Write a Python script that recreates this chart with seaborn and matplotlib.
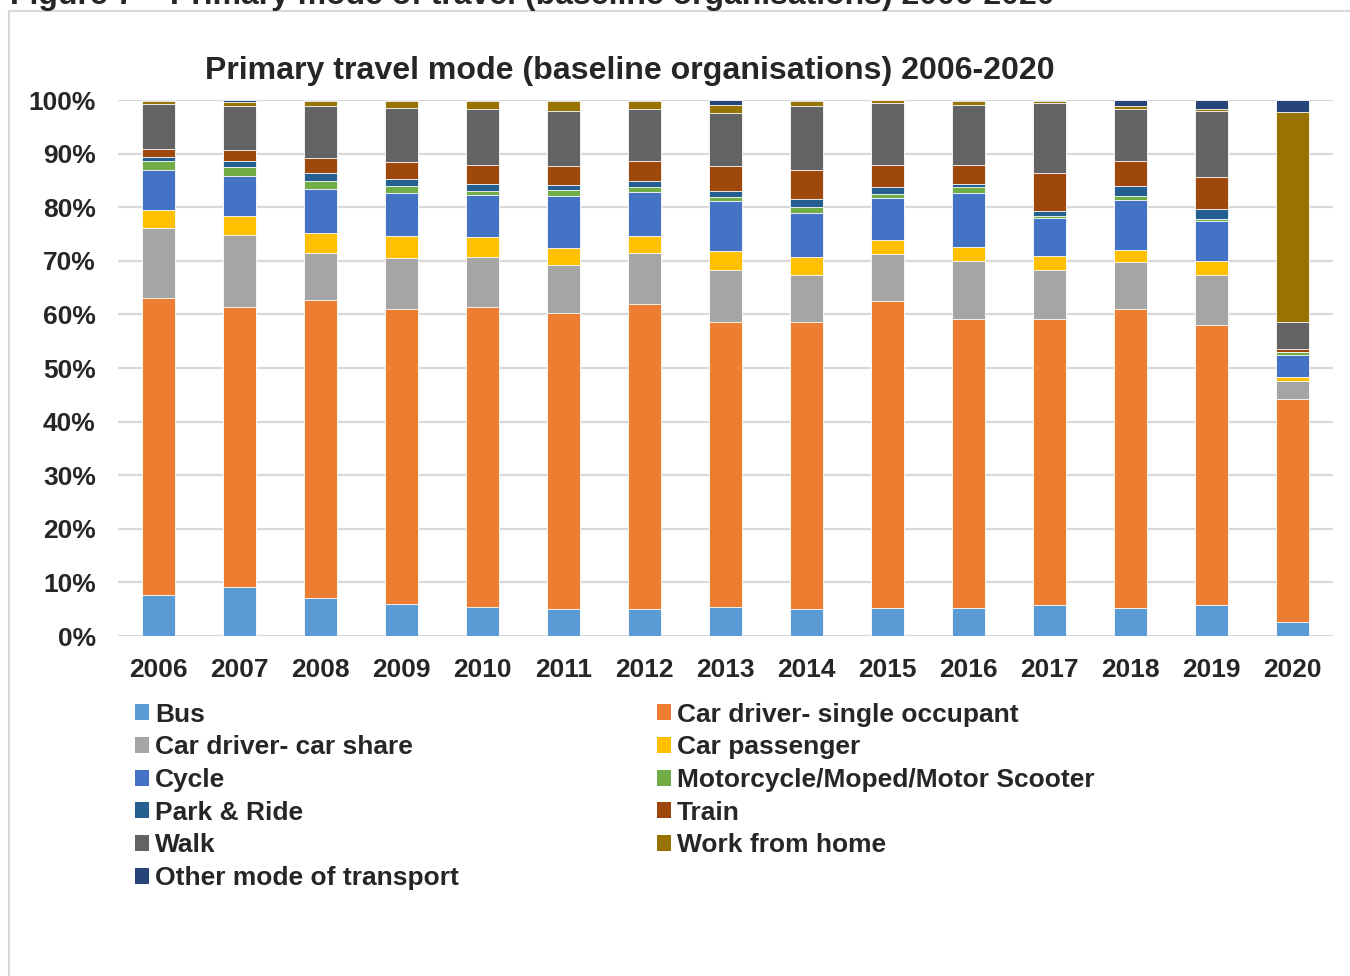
import numpy as np
import pandas as pd
import matplotlib
matplotlib.use("Agg")
import matplotlib.pyplot as plt
from matplotlib.patches import Rectangle, Patch
import seaborn as sns

years = ["2006", "2007", "2008", "2009", "2010", "2011", "2012", "2013",
         "2014", "2015", "2016", "2017", "2018", "2019", "2020"]

bus =            [7.6, 9.2, 7.0, 5.9, 5.4, 5.0, 5.0, 5.4, 5.1, 5.2, 5.3, 5.7, 5.2, 5.7, 2.7]
car_single =     [55.5, 52.1, 55.6, 55.1, 56.0, 55.3, 56.9, 53.2, 53.4, 57.3, 53.8, 53.5, 55.9, 52.4, 41.5]
car_share =      [13.0, 13.5, 8.8, 9.6, 9.4, 8.9, 9.5, 9.7, 8.9, 8.7, 10.8, 9.1, 8.7, 9.2, 3.4]
car_passenger =  [3.4, 3.6, 3.7, 4.0, 3.6, 3.1, 3.2, 3.5, 3.3, 2.6, 2.6, 2.6, 2.2, 2.6, 0.7]
cycle =          [7.4, 7.4, 8.3, 8.0, 7.8, 9.7, 8.2, 9.3, 8.3, 8.0, 10.2, 7.0, 9.3, 7.6, 4.1]
motorcycle =     [1.7, 1.7, 1.5, 1.4, 0.8, 1.2, 0.9, 0.8, 1.1, 0.7, 1.0, 0.5, 0.8, 0.3, 0.5]
park_ride =      [0.7, 1.1, 1.4, 1.2, 1.4, 1.0, 1.1, 1.1, 1.5, 1.2, 0.6, 0.8, 1.9, 1.9, 0.1]
train =          [1.6, 2.0, 2.8, 3.2, 3.4, 3.5, 3.8, 4.6, 5.3, 4.1, 3.5, 7.1, 4.6, 5.9, 0.5]
walk =           [8.3, 8.3, 9.8, 10.2, 10.5, 10.2, 9.7, 9.9, 12.0, 11.6, 11.2, 13.2, 9.7, 12.3, 5.0]
work_from_home = [0.7, 0.7, 1.0, 1.2, 1.5, 1.9, 1.5, 1.6, 1.0, 0.6, 0.9, 0.4, 0.6, 0.5, 39.3]
other =          [0.1, 0.4, 0.1, 0.2, 0.2, 0.2, 0.2, 0.9, 0.1, 0.0, 0.1, 0.1, 1.1, 1.6, 2.2]

modes = ["Bus", "Car driver- single occupant", "Car driver- car share",
         "Car passenger", "Cycle", "Motorcycle/Moped/Motor Scooter",
         "Park & Ride", "Train", "Walk", "Work from home",
         "Other mode of transport"]
series = [bus, car_single, car_share, car_passenger, cycle, motorcycle,
          park_ride, train, walk, work_from_home, other]
colors = ["#5B9BD5", "#ED7D31", "#A5A5A5", "#FFC000", "#4472C4", "#70AD47",
          "#255E91", "#9E480E", "#636363", "#997300", "#264478"]

sns.set_theme(style="white")
plt.rcParams["font.family"] = ["Liberation Sans", "DejaVu Sans"]
plt.rcParams["font.weight"] = "bold"

W, H = 1350, 976
fig = plt.figure(figsize=(W / 100, H / 100), dpi=100)
ax = fig.add_axes([118 / W, 1 - 636 / H, (1333 - 118) / W, (636 - 100) / H])

df = pd.DataFrame(dict(zip(modes, series)), index=years)
cum = df.cumsum(axis=1)

# stacked bars: draw cumulative totals from the top segment down
for mode, col in zip(reversed(modes), reversed(colors)):
    sns.barplot(x=years, y=cum[mode].values, color=col, width=0.4,
                edgecolor="white", linewidth=0.6, ax=ax, zorder=3,
                saturation=1)

ax.set_ylim(0, 100)
ax.set_xlim(-0.5, len(years) - 0.5)
ax.set_yticks(np.arange(0, 101, 10))
ax.set_yticklabels([f"{v}%" for v in range(0, 101, 10)])
ax.grid(axis="y", color="#D9D9D9", linewidth=1.6, zorder=0)
ax.set_axisbelow(True)
for s in ax.spines.values():
    s.set_visible(False)
ax.tick_params(axis="y", labelsize=19, pad=16, length=0)
ax.tick_params(axis="x", labelsize=19, pad=16, length=0)
for lbl in ax.get_xticklabels() + ax.get_yticklabels():
    lbl.set_fontweight("bold")
ax.set_xlabel("")
ax.set_ylabel("")

# chart title and page caption
fig.text(629.5 / W, 1 - 71 / H, "Primary travel mode (baseline organisations) 2006-2020",
         ha="center", va="center", fontsize=23.1, fontweight="bold")
fig.text(1055 / W, 1 - 4 / H,
         "Figure 7 \u2013 Primary mode of travel (baseline organisations) 2006-2020",
         ha="right", va="baseline", fontsize=23, fontweight="bold")

# chart frame
fig.patches.append(Rectangle((9 / W, -0.2), 1.5, 1.2 - 11 / H,
                             transform=fig.transFigure, fill=False,
                             edgecolor="#D9D9D9", linewidth=1.5))

# legend in two columns, filled row by row
order = [0, 2, 4, 6, 8, 10, 1, 3, 5, 7, 9]
handles = [Patch(facecolor=colors[i], edgecolor="none") for i in order]
labels = [modes[i] for i in order]
leg = fig.legend(handles, labels, ncol=2, loc="upper left",
                 bbox_to_anchor=(124 / W, 1 - 692 / H),
                 frameon=False, prop={"weight": "bold", "size": 19},
                 handlelength=0.55, handleheight=0.55, handletextpad=0.22,
                 labelspacing=0.33, columnspacing=7.5, borderaxespad=0)

fig.savefig("out.png", dpi=100)
